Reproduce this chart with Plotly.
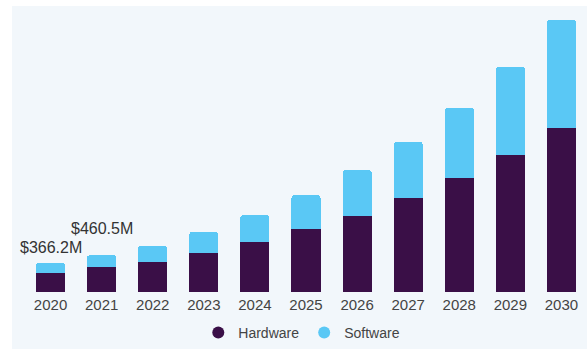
import plotly.graph_objects as go

years = ["2020", "2021", "2022", "2023", "2024", "2025", "2026", "2027", "2028", "2029", "2030"]
hardware = [238, 312, 375, 488, 625, 788, 950, 1175, 1425, 1712, 2050]
software = [128.2, 148.5, 200, 262, 337, 424, 575, 700, 875, 1100, 1350]
label_years = ["2020", "2021"]
label_texts = ["$366.2M", "$460.5M"]

HW = "#3a0f47"
SW = "#5ac8f5"
BG = "#f2f7fb"
FONT = "Liberation Sans, Arial, sans-serif"

fig = go.Figure()
fig.add_trace(go.Bar(x=years, y=hardware, name="Hardware", marker_color=HW,
                     marker_line_width=0, showlegend=False))
fig.add_trace(go.Bar(x=years, y=software, name="Software", marker_color=SW,
                     marker_line_width=0, showlegend=False))
# legend entries with circular markers
for nm, col in [("Hardware", HW), ("Software", SW)]:
    fig.add_trace(go.Scatter(x=[years[0]], y=[None], mode="markers", name=nm,
                             marker=dict(symbol="circle", size=11, color=col)))

totals = {y: h + s for y, h, s in zip(years, hardware, software)}
shifts = [5, 16]
for yr, txt, sh in zip(label_years, label_texts, shifts):
    fig.add_annotation(x=years.index(yr), y=totals[yr], text=txt, showarrow=False,
                       yanchor="bottom", yshift=sh,
                       font=dict(size=16, color="#333333", family=FONT))

fig.add_shape(type="rect", xref="paper", yref="paper",
              x0=-0.0231, x1=1.01, y0=-0.21, y1=1.0142,
              fillcolor=BG, line_width=0, layer="below")

fig.update_layout(
    width=587, height=349,
    margin=dict(l=25, r=0, t=10, b=57),
    barmode="stack",
    bargap=0.43,
    barcornerradius=3,
    paper_bgcolor="white",
    plot_bgcolor="rgba(0,0,0,0)",
    font=dict(family=FONT, color="#444444", size=14),
    showlegend=True,
    legend=dict(orientation="h", x=0.4925, xanchor="center", y=-0.145, yanchor="middle",
                font=dict(size=14, color="#444444"), bgcolor="rgba(0,0,0,0)",
                itemsizing="constant", traceorder="normal", itemwidth=30),
    xaxis=dict(type="category", range=[-0.5, len(years) - 0.5], showgrid=False,
               showline=False, zeroline=False, ticks="", ticklabelstandoff=2,
               tickfont=dict(size=15, color="#444444")),
    yaxis=dict(range=[0, 3525], visible=False),
)

fig.write_html("out.html")
